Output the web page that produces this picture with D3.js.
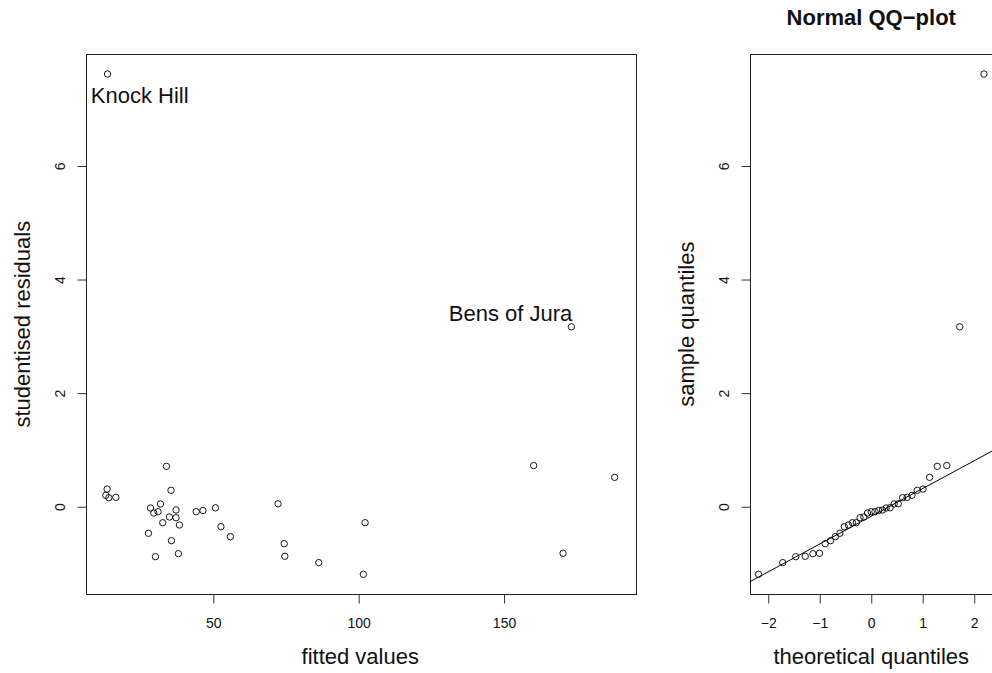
<!DOCTYPE html>
<meta charset="utf-8">
<style>
  body { margin: 0; background: #fff; }
  svg { display: block; font-family: "Liberation Sans", Arial, Helvetica, sans-serif; }
</style>
<script src="https://d3js.org/d3.v7.min.js"></script>
<svg id="chart"></svg>
<script>
// fitted values and studentised residuals
var fitted = [33.86, 13.46, 13.02, 14.04, 16.45, 35.44, 31.8, 28.37, 29.5, 30.98,
              37.16, 34.89, 37.16, 32.59, 38.32, 27.68, 35.58, 30.08, 37.98, 44.1,
              46.43, 50.72, 52.61, 55.87, 72.25, 74.38, 74.59, 86.26, 102.2, 101.6,
              173.15, 160.2, 188.05, 170.3, 13.6];
var residuals = [0.711, 0.311, 0.201, 0.158, 0.165, 0.289, 0.048, -0.023, -0.111, -0.088,
                 -0.058, -0.181, -0.194, -0.282, -0.322, -0.468, -0.598, -0.880, -0.827, -0.088,
                 -0.067, -0.019, -0.352, -0.528, 0.051, -0.651, -0.873, -0.985, -0.282, -1.190,
                 3.167, 0.725, 0.517, -0.820, 7.619];

// points that carry a name
var labelled = [
  { name: "Knock Hill", index: 34, dx: -16.7, dy: 29, anchor: "start" },
  { name: "Bens of Jura", index: 30, dx: 1, dy: -5.7, anchor: "end" }
];

// normal scores for 35 points, (i - 0.5) / 35
var theoretical = [-2.189, -1.718, -1.466, -1.282, -1.133, -1.006, -0.894, -0.792, -0.697, -0.609,
                   -0.524, -0.444, -0.366, -0.290, -0.217, -0.144, -0.072, 0,
                   0.072, 0.144, 0.217, 0.290, 0.366, 0.444, 0.524, 0.609, 0.697, 0.792,
                   0.894, 1.006, 1.133, 1.282, 1.466, 1.718, 2.189];
var quartileScores = [-0.6745, 0.6745];

var leftXTicks = [50, 100, 150];
var yTicks = [0, 2, 4, 6];
var rightXTicks = [-2, -1, 0, 1, 2];

var width = 992, height = 673;
var svg = d3.select("#chart").attr("width", width).attr("height", height);

// R style range: data extent stretched by 4% on both sides
function padded(values) {
  var ext = d3.extent(values);
  var pad = (ext[1] - ext[0]) * 0.04;
  return [ext[0] - pad, ext[1] + pad];
}

var plotTop = 54, plotBottom = 594.3;

function panel(opts) {
  var g = svg.append("g");
  var x = d3.scaleLinear().domain(padded(opts.xs)).range([opts.left, opts.right]);
  var y = d3.scaleLinear().domain(padded(opts.ys)).range([plotBottom, plotTop]);

  var clipId = "clip" + opts.id;
  g.append("clipPath").attr("id", clipId)
    .append("rect")
    .attr("x", opts.left).attr("y", plotTop)
    .attr("width", opts.right - opts.left).attr("height", plotBottom - plotTop);

  // box
  g.append("rect")
    .attr("x", Math.round(opts.left) + 0.5).attr("y", plotTop + 0.5)
    .attr("width", Math.round(opts.right - opts.left))
    .attr("height", Math.round(plotBottom - plotTop))
    .attr("fill", "none").attr("stroke", "#222").attr("stroke-width", 1);

  // x axis
  var xa = g.append("g").attr("transform", "translate(0," + (Math.round(plotBottom) + 0.5) + ")")
    .call(d3.axisBottom(x).tickValues(opts.xTicks).tickSize(9).tickSizeOuter(0)
      .tickFormat(function (d) { return d < 0 ? "\u2212" + Math.abs(d) : d; }));
  xa.select(".domain").remove();
  xa.selectAll("line").attr("stroke", "#333");
  xa.selectAll("text").attr("font-size", 14).attr("fill", "#111")
    .attr("y", 0).attr("dy", 0).attr("transform", "translate(0,33.5)");

  // y axis, labels turned like R does
  var ya = g.append("g").attr("transform", "translate(" + (Math.round(opts.left) + 0.5) + ",0)")
    .call(d3.axisLeft(y).tickValues(yTicks).tickSize(9).tickSizeOuter(0));
  ya.select(".domain").remove();
  ya.selectAll("line").attr("stroke", "#333");
  ya.selectAll(".tick text")
    .attr("font-size", 14).attr("fill", "#111")
    .attr("x", 0).attr("y", 0).attr("dy", 0)
    .attr("text-anchor", "middle")
    .attr("transform", "translate(-22,0) rotate(-90)");

  // axis titles
  g.append("text")
    .attr("x", (opts.left + opts.right) / 2).attr("y", 664)
    .attr("text-anchor", "middle").attr("font-size", 22).attr("fill", "#111")
    .text(opts.xLabel);
  g.append("text")
    .attr("transform", "translate(" + (opts.left - 55.5) + "," + ((plotTop + plotBottom) / 2) + ") rotate(-90)")
    .attr("text-anchor", "middle").attr("font-size", 22).attr("fill", "#111")
    .text(opts.yLabel);

  if (opts.title) {
    g.append("text")
      .attr("x", (opts.left + opts.right) / 2).attr("y", 25)
      .attr("text-anchor", "middle").attr("font-size", 22).attr("font-weight", "bold")
      .attr("fill", "#111")
      .text(opts.title);
  }

  return { g: g, x: x, y: y, clipId: clipId };
}

// left: residuals against fitted values
var p1 = panel({
  id: 1, left: 85.5, right: 635, xs: fitted, ys: residuals, xTicks: leftXTicks,
  xLabel: "fitted values", yLabel: "studentised residuals"
});

p1.g.selectAll("circle.pt")
  .data(d3.range(fitted.length))
  .enter().append("circle")
  .attr("class", "pt")
  .attr("cx", function (i) { return p1.x(fitted[i]); })
  .attr("cy", function (i) { return p1.y(residuals[i]); })
  .attr("r", 3.2)
  .attr("fill", "none").attr("stroke", "#000").attr("stroke-width", 0.9);

p1.g.selectAll("text.name")
  .data(labelled)
  .enter().append("text")
  .attr("class", "name")
  .attr("x", function (d) { return p1.x(fitted[d.index]) + d.dx; })
  .attr("y", function (d) { return p1.y(residuals[d.index]) + d.dy; })
  .attr("text-anchor", function (d) { return d.anchor; })
  .attr("font-size", 22).attr("fill", "#111")
  .text(function (d) { return d.name; });

// right: normal QQ plot of the same residuals
var sorted = residuals.slice().sort(d3.ascending);
var p2 = panel({
  id: 2, left: 749.5, right: 993, xs: theoretical, ys: sorted, xTicks: rightXTicks,
  xLabel: "theoretical quantiles", yLabel: "sample quantiles", title: "Normal QQ\u2212plot"
});

var q1 = d3.quantile(sorted, 0.25), q3 = d3.quantile(sorted, 0.75);
var slope = (q3 - q1) / (quartileScores[1] - quartileScores[0]);
var intercept = q1 - slope * quartileScores[0];
var xd = p2.x.domain();

p2.g.append("line")
  .attr("clip-path", "url(#" + p2.clipId + ")")
  .attr("x1", p2.x(xd[0])).attr("y1", p2.y(intercept + slope * xd[0]))
  .attr("x2", p2.x(xd[1])).attr("y2", p2.y(intercept + slope * xd[1]))
  .attr("stroke", "#000").attr("stroke-width", 1);

p2.g.selectAll("circle.pt")
  .data(sorted)
  .enter().append("circle")
  .attr("class", "pt")
  .attr("cx", function (d, i) { return p2.x(theoretical[i]); })
  .attr("cy", function (d) { return p2.y(d); })
  .attr("r", 3.2)
  .attr("fill", "none").attr("stroke", "#000").attr("stroke-width", 0.9);
</script>
